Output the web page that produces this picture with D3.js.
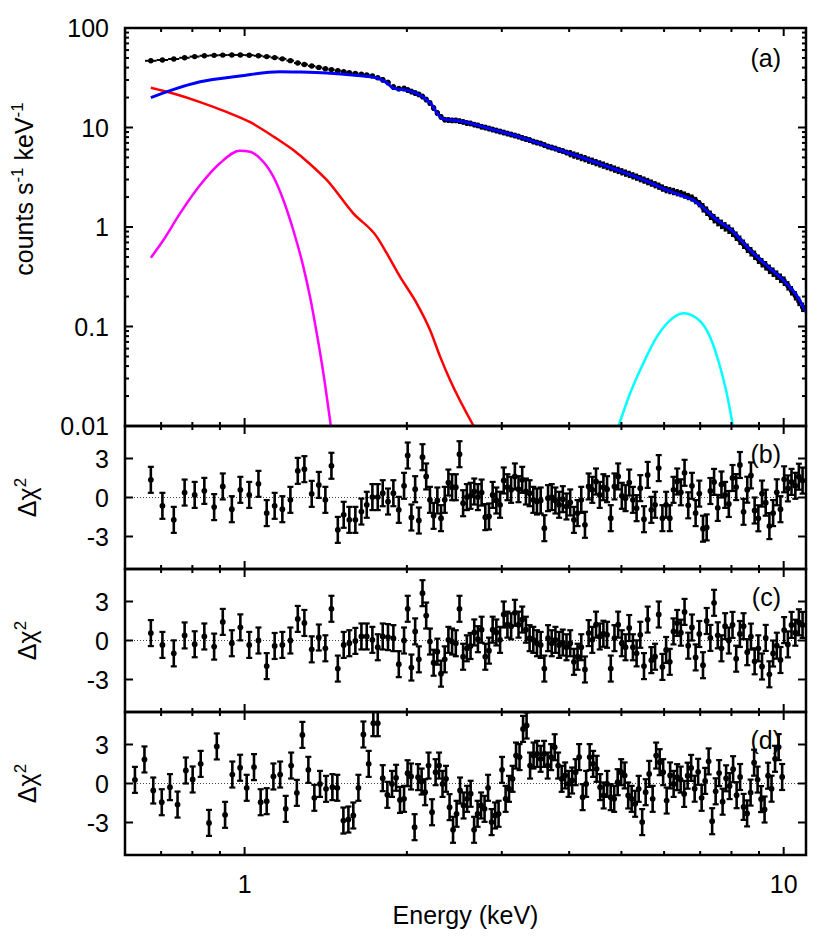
<!DOCTYPE html>
<html><head><meta charset="utf-8">
<script src="https://cdn.jsdelivr.net/npm/d3@7"></script>
<style>body{margin:0;background:#fff}</style>
</head><body><svg id="c" width="830" height="950"></svg>
<script>
// ---------------- DATA ----------------
const xMajorTicks=[1,10];
const xMinorTicks=[0.7,0.8,0.9,2,3,4,5,6,7,8,9];
const xTickLabels=["1","10"];
const yMainMajor=[0.01,0.1,1,10,100];
const yMainLabels=["0.01","0.1","1","10","100"];
const yMainMinor=[0.02,0.03,0.04,0.05,0.06,0.07,0.08,0.09,0.2,0.3,0.4,0.5,0.6,0.7,0.8,0.9,2,3,4,5,6,7,8,9,20,30,40,50,60,70,80,90];
const yResTicks=[-3,0,3];
const yResLabels=["-3","0","3"];
const panelLabels=["(a)","(b)","(c)","(d)"];

// energies of spectral bins (keV), panels a,b,c
const energyBC=[0.670,0.704,0.739,0.774,0.808,0.842,0.878,0.911,0.947,0.982,1.020,1.061,1.099,1.137,1.175,1.216,1.255,1.291,1.332,1.373,1.412,1.449,1.489,1.527,1.564,1.605,1.647,1.685,1.726,1.766,1.804,1.845,1.888,1.932,
1.976,2.007,2.039,2.072,2.105,2.138,2.172,2.207,2.242,2.278,2.314,2.351,2.388,2.426,2.465,2.504,2.543,2.584,2.625,2.667,2.709,2.752,2.796,2.840,2.885,2.931,2.978,3.025,3.073,3.122,3.172,3.222,3.273,3.325,3.378,3.432,3.486,3.542,3.598,3.655,3.713,3.772,3.832,3.893,3.955,4.018,4.082,4.146,4.212,4.279,4.347,4.416,4.486,4.558,4.630,4.703,4.778,4.854,4.931,5.009,5.089,5.170,5.252,5.335,5.420,5.506,5.594,5.682,5.773,5.864,5.957,6.052,6.148,6.246,6.345,6.446,6.548,6.652,6.758,6.865,6.974,7.085,7.197,7.312,7.428,7.546,7.666,7.787,7.911,8.037,8.164,8.294,8.425,8.559,8.695,8.833,8.974,9.116,9.261,9.408,9.558,9.710,9.864,10.02,10.18,10.34,10.51,10.67,10.84];
// energies for panel d
const energyD=[0.626,0.652,0.677,0.702,0.727,0.751,0.778,0.801,0.829,0.859,0.888,0.920,0.949,0.981,1.009,1.041,1.071,1.099,1.131,1.164,1.192,1.220,1.250,1.280,1.313,1.347,1.380,1.416,1.455,1.486,1.525,1.558,1.591,1.626,1.661,1.699,1.733,1.766,1.804,1.840,1.877,1.910,1.942,
1.976,2.006,2.036,2.067,2.098,2.130,2.162,2.194,2.227,2.261,2.295,2.329,2.364,2.400,2.436,2.473,2.510,2.548,2.587,2.626,2.665,2.705,2.746,2.787,2.829,2.872,2.915,2.959,3.003,3.049,3.094,3.141,3.188,3.236,3.285,3.335,3.385,3.436,3.488,3.541,3.594,3.649,3.704,3.760,3.816,3.874,3.932,3.991,4.051,4.112,4.174,4.237,4.301,4.366,4.431,4.498,4.566,4.635,4.705,4.776,4.848,4.921,4.995,5.070,5.147,5.224,5.303,5.383,5.464,5.546,5.630,5.714,5.800,5.888,5.976,6.066,6.157,6.250,6.344,6.440,6.537,6.635,6.735,6.837,6.939,7.044,7.150,7.257,7.367,7.478,7.590,7.704,7.820,7.938,8.057,8.179,8.302,8.427,8.553,8.682,8.813,8.945,9.080,9.216,9.355,9.495,9.638,9.787,9.935];

// observed spectrum, counts s^-1 keV^-1
const spectrum=[46.8,47.7,48.8,50.2,51.6,52.6,53.1,53.4,53.6,53.6,53.3,52.6,51.6,50.4,49.0,47.0,44.5,43.0,41.5,40.2,39.0,38.2,37.2,36.4,35.6,35.0,34.3,33.7,33.0,31.6,30.2,28.3,25.5,24.6,
24.7,23.8,23.0,22.2,21.5,20.5,19.1,17.6,15.7,14.0,12.8,12.0,11.9,11.8,11.8,11.6,11.4,11.1,11.0,10.7,10.5,10.2,10.0,9.77,9.55,9.33,9.12,8.91,8.70,8.51,8.31,8.12,7.87,7.66,7.48,7.23,7.06,6.90,6.67,6.44,6.30,6.15,5.94,5.81,5.61,5.48,5.30,5.18,5.01,4.88,4.71,4.60,4.45,4.32,4.20,4.07,3.96,3.83,3.72,3.60,3.49,3.39,3.28,3.18,3.07,2.97,2.87,2.77,2.67,2.58,2.47,2.38,2.33,2.28,2.22,2.17,2.10,2.03,1.96,1.85,1.72,1.57,1.45,1.32,1.22,1.14,1.07,1.01,0.955,0.891,0.813,0.740,0.675,0.615,0.567,0.523,0.477,0.440,0.410,0.378,0.353,0.330,0.307,0.287,0.258,0.230,0.205,0.180,0.157];

// model components (energy keV, counts)
const blueE=[0.67,0.739,0.827,0.98,1.163,1.267,1.42,1.6,1.76,1.838,1.886,2.027,2.143,2.227,2.275,2.334,2.51,2.652,2.817,3.148,3.69,4.2,4.91,5.5,6.08,6.5,6.79,7.0,7.53,8.0,8.66,9.3,9.98,10.6,11.0];
const blueV=[20.0,24.2,28.8,32.9,36.4,36.1,35.3,33.5,31.4,28.0,24.9,23.3,20.2,16.8,14.0,12.2,11.6,10.85,9.89,8.41,6.37,5.05,3.74,2.97,2.35,2.05,1.87,1.66,1.17,0.93,0.587,0.41,0.293,0.20,0.14];
const redE=[0.67,0.743,0.827,0.920,1.024,1.136,1.231,1.322,1.42,1.591,1.758,1.835,1.942,2.086,2.208,2.305,2.405,2.657];
const redV=[25.1,21.7,18.0,14.5,11.3,8.0,5.94,4.3,2.97,1.37,0.80,0.545,0.317,0.171,0.0923,0.0498,0.029,0.0101];
const magE=[0.67,0.707,0.759,0.827,0.9,0.98,1.024,1.068,1.131,1.18,1.231,1.285,1.322,1.361,1.40,1.445];
const magV=[0.49,0.74,1.37,2.64,4.37,5.85,5.7,4.9,3.2,1.87,0.933,0.40,0.2,0.0855,0.0339,0.0101];
const cyanE=[4.94,5.19,5.49,5.82,6.16,6.51,6.90,7.30,7.62,7.84,8.05];
const cyanV=[0.01,0.0213,0.0427,0.079,0.116,0.136,0.121,0.079,0.0394,0.0213,0.01];

// residuals (Delta chi)
const residB=[1.36,-0.64,-1.72,0.38,0.2,0.51,-0.74,0.85,-0.9,0.59,0.2,1.05,-1.2,-0.64,-0.9,-0.18,2.05,2.18,0.28,0.97,-0.18,2.44,-2.49,-1.33,-1.72,-1.72,-1.08,-0.56,0.03,0.03,0.33,-0.31,0.33,-0.95,
0.9,3.23,-1.54,0.64,-1.77,3.1,1.62,-0.18,-1.41,-0.23,-1.59,-0.18,1.15,0.79,0.79,3.33,-0.44,0.03,0.13,0.46,0.03,0.38,-1.51,-1.46,0.2,-0.23,-0.56,1.31,0.79,0.59,1.62,0.64,1.36,0.46,0.33,-0.18,-0.31,-0.23,-2.36,-0.05,0.03,-0.23,-0.56,-0.13,-0.69,-0.38,-1.72,-1.2,-0.18,-2.1,0.85,0.59,1.23,0.2,0.79,0.64,-1.59,0.85,1.62,0.13,-0.05,1.15,-0.18,-0.82,0.72,-1.67,1.74,-0.95,-0.56,2.26,-1.59,-0.56,-1.59,0.59,1.23,
0.4,1.9,-0.6,0.9,-1.2,0.3,-2.4,-2.3,0.5,1.2,-0.8,1.0,0.2,-0.5,1.5,0.8,2.5,-1.1,0.6,1.7,-1.0,-1.6,0.3,-0.4,-2.2,-1.2,0.4,-0.9,1.4,0.7,1.2,0.9,1.6,1.3];
const residC=[0.57,-0.34,-0.99,0.39,-0.29,0.31,-0.47,1.43,-0.21,1.01,-0.34,0,-1.97,-0.42,-0.34,0,1.66,1.35,-0.68,0.23,-0.6,2.44,-2.16,-0.34,-0.21,-0.03,0.31,0.31,0.05,-0.52,0.31,0.26,0.18,-1.82,
0,2.44,-2.08,0.7,-1.45,3.64,1.92,-0.08,-1.71,-0.86,-2.55,-1.45,0.05,-0.08,-0.21,2.44,-1.25,-0.6,-0.42,0.62,0.1,0.83,-1.25,-0.78,0.83,0.62,0.05,2.0,1.22,1.09,2.13,1.22,1.61,0.83,0.18,0.05,-0.21,-0.34,-2.16,0.18,-0.21,0.05,-0.34,-0.16,-0.52,-0.21,-1.64,-1.25,-0.52,-2.23,0.57,0.05,1.22,0.31,0.52,0.44,-2.16,0.18,1.22,-0.21,-0.52,0.96,-0.52,-0.99,0.44,-1.97,1.61,-1.51,-1.25,2.0,-2.03,-0.73,-1.64,0.7,1.35,
0.6,2.2,-0.4,1.0,-1.3,0.5,-1.9,1.5,0.2,2.9,0.4,-0.6,1.1,0.0,1.2,-1.4,0.5,1.1,-0.9,0.3,-1.6,-0.6,-2.0,0.2,-2.6,-1.0,-0.4,-1.5,0.8,-0.3,1.2,0.6,1.4,1.2];
const residD=[0.28,1.85,-0.54,-1.44,-0.28,-1.62,1.0,0.31,1.51,-3.03,2.85,-2.41,0.69,1.21,-0.33,1.26,-1.44,-1.36,0.54,0.69,-1.95,1.38,-0.72,3.74,1.05,-1.1,-0.03,-0.41,-0.28,-0.33,-2.85,-2.77,-2.46,-0.33,3.77,1.51,4.64,4.64,0.41,-0.87,-0.03,0.44,-1.26,
-1.18,0.79,0.54,-3.36,0.49,0.15,-0.67,1.38,-2.21,0.87,1.38,-0.03,0.36,-1.82,-3.56,-2.33,-0.54,-1.69,-1.18,-0.79,-3.56,-2.33,-1.69,-1.95,-0.33,-2.97,-2.46,-2.33,1.05,-1.18,-0.41,0.36,2.15,2.03,4.2,4.46,1.38,2.15,2.28,1.9,2.28,1.38,2.03,2.79,1.38,0.36,0.62,-0.03,0.23,0.87,2.03,-1.05,-0.03,2.03,1.51,1.13,-0.28,-0.92,-0.03,-1.05,-1.18,0.1,0.87,0.62,-0.92,-1.18,-1.56,-0.41,-2.97,-0.67,0.74,-1.18,2.15,1.64,0.87,-1.31,0.62,-0.03,0.49,
0.3,-0.8,0.6,1.2,-0.4,0.9,-1.1,0.2,1.7,-2.9,-0.6,0.8,-1.4,0.4,-0.2,1.1,-0.9,0.5,-1.8,-2.3,-0.7,1.6,0.3,-1.2,-2.0,0.6,-0.4,1.9,2.8,0.5];

// ---------------- DRAW ----------------
const FONT="'Liberation Sans', Arial, Helvetica, sans-serif";
const L=125,R=806;
const mainTop=28,mainBot=426;
const resTops=[426,569,712], resH=143;
const svg=d3.select('#c');
const x=d3.scaleLog().domain([0.6,11]).range([L,R]);
const yMain=d3.scaleLog().domain([0.01,100]).range([mainBot,mainTop]);
const zip=(a,b)=>d3.range(Math.min(a.length,b.length)).map(i=>[a[i],b[i]]);

const defs=svg.append('defs');
function clip(id,top,bot){defs.append('clipPath').attr('id',id).append('rect').attr('x',L).attr('y',top).attr('width',R-L).attr('height',bot-top);}
clip('cm',mainTop,mainBot);
resTops.forEach((t,i)=>clip('cr'+i,t,t+resH));

function txt(g,xx,yy,s,size,anchor){return g.append('text').attr('x',xx).attr('y',yy).attr('text-anchor',anchor||'middle').style('font-family',FONT).style('font-size',size+'px').attr('fill','#000').text(s);}

// panel labels (behind data)
txt(svg,781,67,panelLabels[0],25,'end');
resTops.forEach((t,i)=>txt(svg,781,t+37,panelLabels[i+1],25,'end'));

// ---- main panel data
const gm=svg.append('g').attr('clip-path','url(#cm)');
const spec=zip(energyBC,spectrum);
spec.forEach((d,i)=>{
  const e=d[0],v=d[1];
  const prev=i>0?spec[i-1][0]:e*e/spec[i+1][0];
  const next=i<spec.length-1?spec[i+1][0]:e*e/prev;
  const lo=Math.sqrt(prev*e),hi=Math.sqrt(e*next);
  const rel=e<1.8?0.02:(e<4?0.065:(e<7?0.085:0.11));
  gm.append('line').attr('x1',x(lo)).attr('x2',x(hi)).attr('y1',yMain(v)).attr('y2',yMain(v)).attr('stroke','#000').attr('stroke-width',2);
  gm.append('line').attr('x1',x(e)).attr('x2',x(e)).attr('y1',yMain(v*(1-rel))).attr('y2',yMain(v*(1+rel))).attr('stroke','#000').attr('stroke-width',3);
  gm.append('circle').attr('cx',x(e)).attr('cy',yMain(v)).attr('r',2.7).attr('fill','#000');
});
const line=d3.line().x(d=>x(d[0])).y(d=>yMain(d[1])).curve(d3.curveMonotoneX);
[[redE,redV,'#ff0000',2.5],[magE,magV,'#ff00ff',2.5],[cyanE,cyanV,'#00ffff',2.5],[blueE,blueV,'#0000ff',3]].forEach(c=>{
  gm.append('path').datum(zip(c[0],c[1])).attr('d',line).attr('fill','none').attr('stroke',c[2]).attr('stroke-width',c[3]);
});

// ---- residual panels
const resData=[[energyBC,residB],[energyBC,residC],[energyD,residD]];
const yRes=resTops.map(t=>d3.scaleLinear().domain([-5.5,5.5]).range([t+resH,t]));
resData.forEach((rd,k)=>{
  const y=yRes[k];
  const g=svg.append('g').attr('clip-path','url(#cr'+k+')');
  g.append('line').attr('x1',L).attr('x2',R).attr('y1',y(0)).attr('y2',y(0)).attr('stroke','#444').attr('stroke-width',1).attr('stroke-dasharray','1,2');
  zip(rd[0],rd[1]).forEach(d=>{
    const cx=x(d[0]);
    g.append('line').attr('x1',cx).attr('x2',cx).attr('y1',y(d[1]-1)).attr('y2',y(d[1]+1)).attr('stroke','#000').attr('stroke-width',2.6);
    [d[1]-1,d[1]+1].forEach(v=>g.append('line').attr('x1',cx-3).attr('x2',cx+3).attr('y1',y(v)).attr('y2',y(v)).attr('stroke','#000').attr('stroke-width',2.2));
    g.append('circle').attr('cx',cx).attr('cy',y(d[1])).attr('r',2.9).attr('fill','#000');
  });
});

// ---- frames and ticks
const ax=svg.append('g').attr('stroke','#000');
function xTicks(top,bot){
  xMajorTicks.forEach(t=>{ax.append('line').attr('x1',x(t)).attr('x2',x(t)).attr('y1',top).attr('y2',top+8).attr('stroke-width',2);
    ax.append('line').attr('x1',x(t)).attr('x2',x(t)).attr('y1',bot).attr('y2',bot-8).attr('stroke-width',2);});
  xMinorTicks.forEach(t=>{ax.append('line').attr('x1',x(t)).attr('x2',x(t)).attr('y1',top).attr('y2',top+4).attr('stroke-width',2);
    ax.append('line').attr('x1',x(t)).attr('x2',x(t)).attr('y1',bot).attr('y2',bot-4).attr('stroke-width',2);});
}
function yTicks(vals,sc,len){vals.forEach(v=>{
  ax.append('line').attr('x1',L).attr('x2',L+len).attr('y1',sc(v)).attr('y2',sc(v)).attr('stroke-width',2);
  ax.append('line').attr('x1',R).attr('x2',R-len).attr('y1',sc(v)).attr('y2',sc(v)).attr('stroke-width',2);});}
xTicks(mainTop,mainBot);
yTicks(yMainMajor,yMain,8);
yTicks(yMainMinor,yMain,4);
resTops.forEach((t,k)=>{xTicks(t,t+resH);yTicks(yResTicks,yRes[k],8);});
ax.append('rect').attr('x',L).attr('y',mainTop).attr('width',R-L).attr('height',mainBot-mainTop).attr('fill','none').attr('stroke-width',2.5);
resTops.forEach(t=>ax.append('rect').attr('x',L).attr('y',t).attr('width',R-L).attr('height',resH).attr('fill','none').attr('stroke-width',2.5));

// ---- tick labels
yMainMajor.forEach((v,i)=>txt(svg,109,yMain(v)+9,yMainLabels[i],25,'end'));
resTops.forEach((t,k)=>yResTicks.forEach((v,i)=>txt(svg,109,yRes[k](v)+9,yResLabels[i],25,'end')));
xMajorTicks.forEach((v,i)=>txt(svg,x(v),893,xTickLabels[i],25,'middle'));
txt(svg,(L+R)/2,924,'Energy (keV)',25,'middle');

// ---- axis titles
const yl=svg.append('text').attr('transform','translate(33,189) rotate(-90)').attr('text-anchor','middle').style('font-family',FONT).style('font-size','25px');
yl.append('tspan').text('counts s');
yl.append('tspan').attr('dy',-10).style('font-size','17px').text('-1');
yl.append('tspan').attr('dy',10).text(' keV');
yl.append('tspan').attr('dy',-10).style('font-size','17px').text('-1');
resTops.forEach(t=>{
  const d=svg.append('text').attr('transform','translate(36,'+(t+resH/2)+') rotate(-90)').attr('text-anchor','middle').style('font-family',FONT).style('font-size','25px');
  d.append('tspan').text('Δχ');
  d.append('tspan').attr('dy',-10).style('font-size','17px').text('2');
});
</script></body></html>
